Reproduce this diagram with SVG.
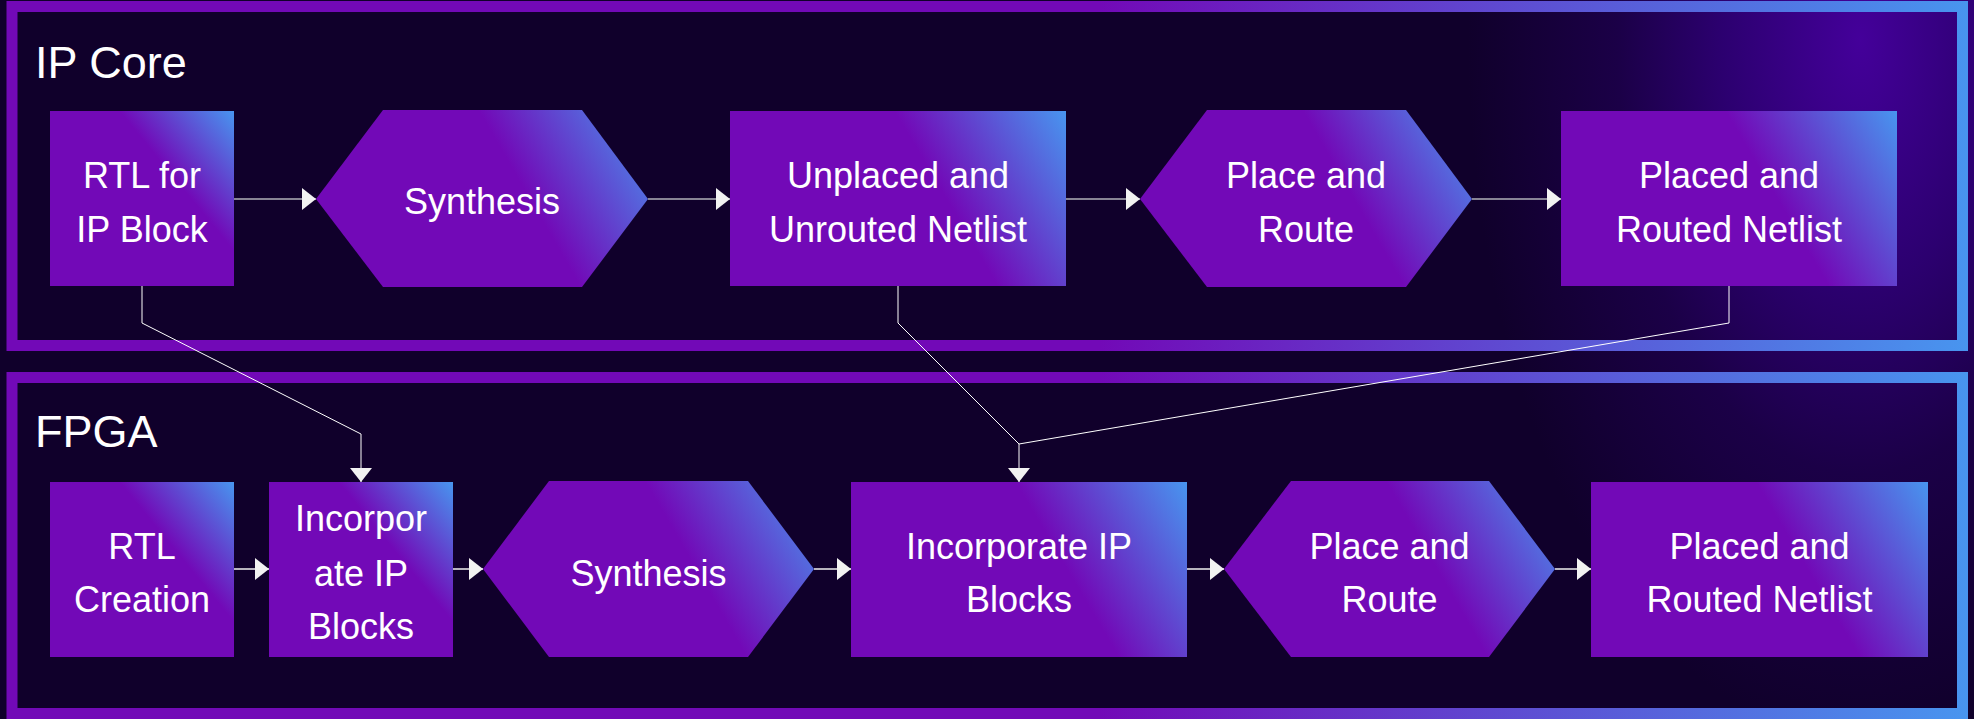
<svg xmlns="http://www.w3.org/2000/svg" width="1974" height="719" viewBox="0 0 1974 719">
<defs>
<style>
.frame{fill:none;stroke:url(#gFrame);stroke-width:11}
.lbl{font-family:"Liberation Sans",Arial,sans-serif;font-size:36px;fill:#ffffff;text-anchor:middle}
.title{font-family:"Liberation Sans",Arial,sans-serif;font-size:45px;fill:#ffffff}
.wide{fill:url(#gW)}
.narrow{fill:url(#gN)}
.e1{fill:none;stroke:#b0b0b8;stroke-width:1.5}
.e2{fill:none;stroke:#f0f0f0;stroke-width:1.5}
.e3{fill:none;stroke:#ffffff;stroke-width:1}
</style>
<linearGradient id="gFrame" gradientUnits="userSpaceOnUse" x1="1100" y1="0" x2="1968" y2="0">
<stop offset="0" stop-color="#7209b7"/><stop offset="1" stop-color="#4895ef"/>
</linearGradient>
<linearGradient id="gW" x1="0" y1="1" x2="1.194" y2="0.633">
<stop offset="0" stop-color="#7209b7"/><stop offset="0.61" stop-color="#7209b7"/><stop offset="1" stop-color="#4895ef"/>
</linearGradient>
<linearGradient id="gN" x1="0" y1="1" x2="1.107" y2="0.139">
<stop offset="0" stop-color="#7209b7"/><stop offset="0.65" stop-color="#7209b7"/><stop offset="1" stop-color="#4895ef"/>
</linearGradient>
<radialGradient id="gBg" gradientUnits="userSpaceOnUse" cx="1860" cy="40" r="700" gradientTransform="translate(1860 40) scale(0.56 1) translate(-1860 -40)">
<stop offset="0" stop-color="#44009a"/><stop offset="0.35" stop-color="#2c0070"/><stop offset="0.62" stop-color="#1b0047"/><stop offset="1" stop-color="#10002b"/>
</radialGradient>
<marker id="ah" markerUnits="userSpaceOnUse" viewBox="0 0 14 22" refX="14" refY="11" markerWidth="14" markerHeight="22" orient="auto">
<path d="M0 0 L14 11 L0 22 Z" fill="#f2f2f2"/>
</marker>
</defs>

<rect x="0" y="0" width="1974" height="719" fill="url(#gBg)"/>

<g id="frame-ipcore">
<rect class="frame" x="12" y="6.5" width="1950.5" height="339"/>
<text class="title" x="35" y="78">IP Core</text>
</g>
<g id="frame-fpga">
<rect class="frame" x="12" y="377.5" width="1950.5" height="336"/>
<text class="title" x="35" y="447">FPGA</text>
</g>

<g id="connectors">
<line class="e1" x1="234" y1="199" x2="316" y2="199" marker-end="url(#ah)"/>
<line class="e1" x1="648" y1="199" x2="730" y2="199" marker-end="url(#ah)"/>
<line class="e1" x1="1066" y1="199" x2="1140" y2="199" marker-end="url(#ah)"/>
<line class="e1" x1="1472" y1="199" x2="1561" y2="199" marker-end="url(#ah)"/>
<line class="e2" x1="232" y1="569" x2="269" y2="569" marker-end="url(#ah)"/>
<line class="e2" x1="453" y1="569" x2="483" y2="569" marker-end="url(#ah)"/>
<line class="e2" x1="814" y1="569" x2="851" y2="569" marker-end="url(#ah)"/>
<line class="e2" x1="1187" y1="569" x2="1224" y2="569" marker-end="url(#ah)"/>
<line class="e2" x1="1555" y1="569" x2="1591" y2="569" marker-end="url(#ah)"/>
<path class="e3" d="M142 286 V323 L361 434 V482" marker-end="url(#ah)"/>
<path class="e3" d="M898 286 V323 L1019 444 V482" marker-end="url(#ah)"/>
<path class="e3" d="M1729 286 V323 L1019 444"/>
</g>

<g id="n-rtl-ip">
<rect class="narrow" x="50" y="111" width="184" height="175"/>
<text class="lbl" x="142" y="188">RTL for</text>
<text class="lbl" x="142" y="242">IP Block</text>
</g>
<g id="n-synth-ip">
<polygon class="wide" points="316,199 383,110 582,110 648,199 582,287 383,287"/>
<text class="lbl" x="482" y="214">Synthesis</text>
</g>
<g id="n-unplaced">
<rect class="wide" x="730" y="111" width="336" height="175"/>
<text class="lbl" x="898" y="188">Unplaced and</text>
<text class="lbl" x="898" y="242">Unrouted Netlist</text>
</g>
<g id="n-pr-ip">
<polygon class="wide" points="1140,199 1207,110 1406,110 1472,199 1406,287 1207,287"/>
<text class="lbl" x="1306" y="188">Place and</text>
<text class="lbl" x="1306" y="242">Route</text>
</g>
<g id="n-placed-ip">
<rect class="wide" x="1561" y="111" width="336" height="175"/>
<text class="lbl" x="1729" y="188">Placed and</text>
<text class="lbl" x="1729" y="242">Routed Netlist</text>
</g>

<g id="n-rtl-creation">
<rect class="narrow" x="50" y="482" width="184" height="175"/>
<text class="lbl" x="142" y="559">RTL</text>
<text class="lbl" x="142" y="612">Creation</text>
</g>
<g id="n-incorp-small">
<rect class="narrow" x="269" y="482" width="184" height="175"/>
<text class="lbl" x="361" y="531">Incorpor</text>
<text class="lbl" x="361" y="586">ate IP</text>
<text class="lbl" x="361" y="639">Blocks</text>
</g>
<g id="n-synth-fpga">
<polygon class="wide" points="483,569 549,481 748,481 814,569 748,657 549,657"/>
<text class="lbl" x="648.5" y="586">Synthesis</text>
</g>
<g id="n-incorp-big">
<rect class="wide" x="851" y="482" width="336" height="175"/>
<text class="lbl" x="1019" y="559">Incorporate IP</text>
<text class="lbl" x="1019" y="612">Blocks</text>
</g>
<g id="n-pr-fpga">
<polygon class="wide" points="1224,569 1291,481 1489,481 1555,569 1489,657 1291,657"/>
<text class="lbl" x="1389.5" y="559">Place and</text>
<text class="lbl" x="1389.5" y="612">Route</text>
</g>
<g id="n-placed-fpga">
<rect class="wide" x="1591" y="482" width="337" height="175"/>
<text class="lbl" x="1759.5" y="559">Placed and</text>
<text class="lbl" x="1759.5" y="612">Routed Netlist</text>
</g>
</svg>
